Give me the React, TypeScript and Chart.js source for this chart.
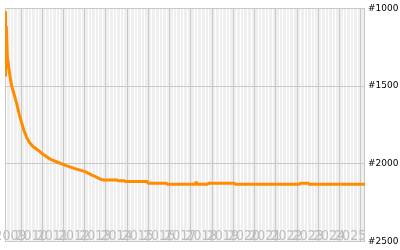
import React, { useEffect, useRef } from 'react';
import { Chart, registerables } from 'chart.js';

Chart.register(...registerables);

// Decimal-year dates and rank values
const dates = [
  2009.246, 2009.27, 2009.308, 2009.355, 2009.402, 2009.482, 2009.562, 2009.67, 2009.797, 2009.906,
  2010.033, 2010.141, 2010.268, 2010.4, 2010.565, 2010.801, 2011.036, 2011.366, 2011.696, 2012.167,
  2012.544, 2013.015, 2013.392, 2013.721, 2013.863, 2014.55, 2014.569, 2014.88, 2014.899, 2015.96,
  2015.982, 2016.86, 2016.877, 2018.22, 2018.243, 2018.265, 2018.79, 2018.808, 2020.06, 2020.08,
  2023.12, 2023.142, 2023.545, 2023.566, 2026.2,
];
const ranks = [
  1019, 1438, 1113, 1313, 1356, 1438, 1500, 1550, 1613, 1675,
  1738, 1785, 1831, 1862, 1888, 1912, 1938, 1969, 1988, 2013,
  2031, 2050, 2075, 2097, 2103, 2103, 2109, 2109, 2114, 2114,
  2125, 2125, 2131, 2131, 2113, 2131, 2131, 2125, 2125, 2131,
  2131, 2125, 2125, 2131, 2131,
];

const yearTicks = [2009, 2010, 2011, 2012, 2013, 2014, 2015, 2016, 2017, 2018, 2019, 2020, 2021, 2022, 2023, 2024, 2025, 2026];
const yearLabels = ['2009', '2010', '2011', '2012', '2013', '2014', '2015', '2016', '2017', '2018', '2019', '2020', '2021', '2022', '2023', '2024', '2025'];
const minorSteps = [0, 1, 2, 3, 4, 5]; // two-month sub-divisions of each year
const rankTicks = [1000, 1500, 2000, 2500];
const rankLabels = ['#1000', '#1500', '#2000', '#2500'];

const xMin = dates[0];
const xMax = dates[dates.length - 1];

const bgPlugin = {
  id: 'bgPlugin',
  beforeDraw(chart: any) {
    const { ctx, chartArea } = chart;
    const { left, top, right, bottom } = chartArea;
    ctx.save();
    ctx.fillStyle = '#efefef';
    ctx.fillRect(left, top, right - left, bottom - top);
    ctx.restore();
  },
  beforeDatasetsDraw(chart: any) {
    const { ctx, chartArea } = chart;
    const { left, top, right, bottom } = chartArea;
    ctx.save();
    ctx.strokeStyle = '#c8c8c8';
    ctx.lineWidth = 1;
    ctx.strokeRect(Math.round(left) + 0.5, Math.round(top) + 0.5, Math.round(right - left) - 1, Math.round(bottom - top));
    ctx.restore();
  },
};

function isYearBoundary(v: number) {
  return Math.abs(v - Math.round(v)) < 1e-6;
}

export default function App() {
  const ref = useRef<HTMLCanvasElement | null>(null);

  useEffect(() => {
    if (!ref.current) return;
    const chart = new Chart(ref.current, {
      type: 'line',
      data: {
        datasets: [
          {
            data: dates.map((d, i) => ({ x: d, y: ranks[i] })),
            borderColor: '#ff8c00',
            borderWidth: 3,
            borderJoinStyle: 'bevel',
            pointRadius: 0,
            tension: 0,
            fill: false,
          },
        ],
      },
      options: {
        animation: false,
        responsive: false,
        layout: { padding: { left: 5, top: 5, right: 0, bottom: 5 } },
        plugins: { legend: { display: false }, tooltip: { enabled: false } },
        scales: {
          x: {
            type: 'linear',
            position: 'bottom',
            min: xMin,
            max: xMax,
            border: { display: false },
            afterBuildTicks: (scale: any) => {
              const t: any[] = [];
              yearTicks.forEach((y) => {
                minorSteps.forEach((k) => {
                  const v = y + k / 6;
                  if (v >= xMin && v <= xMax) t.push({ value: v });
                });
              });
              scale.ticks = t;
            },
            afterFit: (scale: any) => {
              scale.height = 0;
            },
            grid: {
              drawTicks: false,
              lineWidth: 1,
              color: (ctx: any) => (ctx.tick && isYearBoundary(ctx.tick.value) ? '#c8c8c8' : '#ffffff'),
            },
            ticks: {
              autoSkip: false,
              mirror: true,
              maxRotation: 0,
              minRotation: 0,
              padding: -3,
              color: '#bdbdbd',
              font: { family: "'Liberation Sans Narrow', 'DejaVu Sans Condensed', sans-serif", size: 14 },
              callback: (value: any) => {
                const v = Number(value);
                const y = Math.floor(v + 1e-6);
                if (Math.abs(v - y - 0.5) < 1e-6) {
                  const idx = yearTicks.indexOf(y);
                  return idx >= 0 && idx < yearLabels.length ? yearLabels[idx] : '';
                }
                return '';
              },
            },
          },
          y: {
            type: 'linear',
            position: 'right',
            reverse: true,
            min: rankTicks[0],
            max: rankTicks[rankTicks.length - 1],
            border: { display: false },
            afterBuildTicks: (scale: any) => {
              scale.ticks = rankTicks.map((v) => ({ value: v }));
            },
            afterFit: (scale: any) => {
              scale.width = 35;
            },
            grid: { drawTicks: false, color: '#c8c8c8', lineWidth: 1 },
            ticks: {
              padding: 3,
              color: '#000000',
              font: { family: "'DejaVu Sans', sans-serif", size: 9 },
              callback: (value: any) => {
                const idx = rankTicks.indexOf(Number(value));
                return idx >= 0 ? rankLabels[idx] : '';
              },
            },
          },
        },
      },
      plugins: [bgPlugin],
    } as any);
    return () => chart.destroy();
  }, []);

  return (
    <div style={{ position: 'fixed', left: 0, top: 0, width: 400, height: 250 }}>
      <canvas ref={ref} width={400} height={250} style={{ display: 'block' }} />
    </div>
  );
}
